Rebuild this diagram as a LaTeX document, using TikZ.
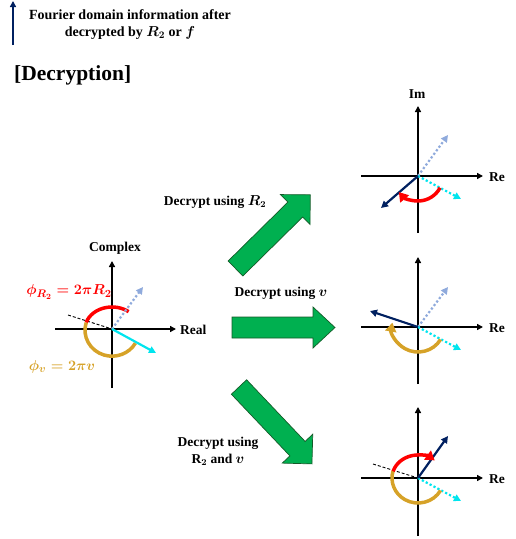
\documentclass[tikz,border=0pt]{standalone}
\usepackage{fontspec}
\setmainfont{Liberation Serif}
\usetikzlibrary{arrows.meta,calc}
\definecolor{navyv}{RGB}{0,32,96}
\definecolor{lbluev}{RGB}{143,170,220}
\definecolor{cyanv}{RGB}{0,229,238}
\definecolor{goldv}{RGB}{214,162,40}
\definecolor{redv}{RGB}{255,0,0}
\definecolor{gfill}{RGB}{0,176,80}
\definecolor{gdraw}{RGB}{20,90,40}
\begin{document}
\begin{tikzpicture}[x=1pt,y=1pt,
  axisline/.style={line width=1.8pt,black,-{Triangle[length=6pt,width=6pt]}},
  lbl/.style={font=\fontsize{13.5}{17}\selectfont\bfseries\boldmath, inner sep=0pt, align=center},
  vec/.style={line width=2.2pt,-{Triangle[length=7pt,width=7pt]}},
  dotvec/.style={vec, dash pattern=on 2.2pt off 2.2pt},
  dashref/.style={line width=0.9pt, dash pattern=on 3pt off 2pt, black},
  arcline/.style={line width=3.5pt},
  arctip/.style={-{Triangle[length=9pt,width=11pt]}},
  garrow/.style={fill=gfill, draw=gdraw, line width=0.7pt, line join=miter}
]
\useasboundingbox (0,0) rectangle (515,-539);

% legend
\coordinate (legB) at (13,-45);
\coordinate (legT) at (13,-1);
\draw[line width=2pt, navyv, -{Triangle[length=6pt,width=6pt]}] (legB) -- (legT);
\node[lbl, font=\fontsize{14}{17}\selectfont\bfseries\boldmath] (leg1) at (130,-15) {Fourier domain information after};
\node[lbl, font=\fontsize{14}{17}\selectfont\bfseries\boldmath] (leg2) at (130,-33) {decrypted by $R_2$ or $f$};
\node[font=\fontsize{21.5}{25}\selectfont\bfseries, inner sep=0pt, anchor=west] (title) at (14,-75) {[Decryption]};

% ---------- left panel ----------
\coordinate (o1) at (112,-329);
\coordinate (o1L) at (55,-329);
\coordinate (o1R) at (176,-329);
\coordinate (o1B) at (112,-388);
\coordinate (o1T) at (112,-261);
\draw[axisline] (o1L) -- (o1R);
\draw[axisline] (o1B) -- (o1T);
\node[lbl] (complex) at (115,-248) {Complex};
\node[lbl, anchor=west] (real) at (180,-330) {Real};
\coordinate (d1) at (68,-315);
\draw[dashref] (d1) -- (o1);
\draw[arcline, redv] ($(o1)+(163:27 and 22)$) arc[start angle=163, end angle=52, x radius=27, y radius=22];
\draw[arcline, goldv] ($(o1)+(163:27 and 22)$) arc[start angle=163, end angle=330, x radius=27, y radius=26];
\coordinate (lb1) at (143,-287);
\coordinate (cy1) at (156,-353);
\draw[dotvec, lbluev] (o1) -- (lb1);
\draw[vec, cyanv] (o1) -- (cy1);
\node[lbl, font=\fontsize{15.5}{18}\selectfont\bfseries\boldmath, text=redv] (phiR) at (69,-292) {$\phi_{R_2}=2\pi R_2$};
\node[lbl, font=\fontsize{15.5}{18}\selectfont\bfseries\boldmath, text=goldv] (phiv) at (62,-367) {$\phi_{v}=2\pi v$};

% ---------- green arrows ----------
\begin{scope}[shift={(235.5,-268.5)}, rotate=44.6]
\draw[garrow] (0,-10.5) -- (84,-10.5) -- (84,-21) -- (105,0) -- (84,21) -- (84,10.5) -- (0,10.5) -- cycle;
\end{scope}
\begin{scope}[shift={(232,-327.5)}]
\draw[garrow] (0,-10.5) -- (81,-10.5) -- (81,-20.5) -- (103,0) -- (81,20.5) -- (81,10.5) -- (0,10.5) -- cycle;
\end{scope}
\begin{scope}[shift={(239,-387)}, rotate=-46.5]
\draw[garrow] (0,-10.5) -- (85,-10.5) -- (85,-21) -- (106,0) -- (85,21) -- (85,10.5) -- (0,10.5) -- cycle;
\end{scope}
\node[lbl] (lab1) at (215,-202) {Decrypt using $R_2$};
\node[lbl] (lab2) at (281,-293) {Decrypt using $v$};
\node[lbl] (lab3) at (218,-451) {Decrypt using\\R$_\mathbf{2}$ and $v$};

% ---------- top right ----------
\coordinate (o2) at (418,-176);
\coordinate (o2L) at (361,-176);
\coordinate (o2R) at (483,-176);
\coordinate (o2B) at (418,-233);
\coordinate (o2T) at (418,-106);
\draw[axisline] (o2L) -- (o2R);
\draw[axisline] (o2B) -- (o2T);
\node[lbl] (im) at (417,-94) {Im};
\node[lbl, anchor=west] (re2) at (489,-177) {Re};
\coordinate (lb2) at (448,-135);
\coordinate (cy2) at (461,-199);
\coordinate (nv2) at (381,-208);
\draw[dotvec, lbluev] (o2) -- (lb2);
\draw[dotvec, cyanv] (o2) -- (cy2);
\draw[vec, navyv] (o2) -- (nv2);
\draw[arcline, redv, arctip] ($(o2)+(-28:25)$) arc[start angle=-28, end angle=-140, radius=25];

% ---------- middle right ----------
\coordinate (o3) at (418,-327);
\coordinate (o3L) at (361,-327);
\coordinate (o3R) at (483,-327);
\coordinate (o3B) at (418,-384);
\coordinate (o3T) at (418,-257);
\draw[axisline] (o3L) -- (o3R);
\draw[axisline] (o3B) -- (o3T);
\node[lbl, anchor=west] (re3) at (489,-328) {Re};
\coordinate (lb3) at (448,-287);
\coordinate (cy3) at (461,-350);
\coordinate (nv3) at (370,-311);
\draw[dotvec, lbluev] (o3) -- (lb3);
\draw[dotvec, cyanv] (o3) -- (cy3);
\draw[vec, navyv] (o3) -- (nv3);
\draw[arcline, goldv, arctip] ($(o3)+(-30:26 and 25)$) arc[start angle=-30, end angle=-190, x radius=26, y radius=25];

% ---------- bottom right ----------
\coordinate (o4) at (418,-478);
\coordinate (o4L) at (361,-478);
\coordinate (o4R) at (483,-478);
\coordinate (o4B) at (418,-536);
\coordinate (o4T) at (418,-407);
\draw[axisline] (o4L) -- (o4R);
\draw[axisline] (o4B) -- (o4T);
\node[lbl, anchor=west] (re4) at (489,-479) {Re};
\coordinate (d4) at (373,-464);
\draw[dashref] (d4) -- (o4);
\coordinate (cy4) at (461,-501);
\coordinate (nv4) at (448,-436);
\draw[dotvec, cyanv] (o4) -- (cy4);
\draw[vec, navyv] (o4) -- (nv4);
\draw[arcline, goldv] ($(o4)+(-30:26 and 25)$) arc[start angle=-30, end angle=-197, x radius=26, y radius=25];
\draw[arcline, redv, arctip] ($(o4)+(163:26 and 23)$) arc[start angle=163, end angle=50, x radius=26, y radius=23];
\end{tikzpicture}
\end{document}
